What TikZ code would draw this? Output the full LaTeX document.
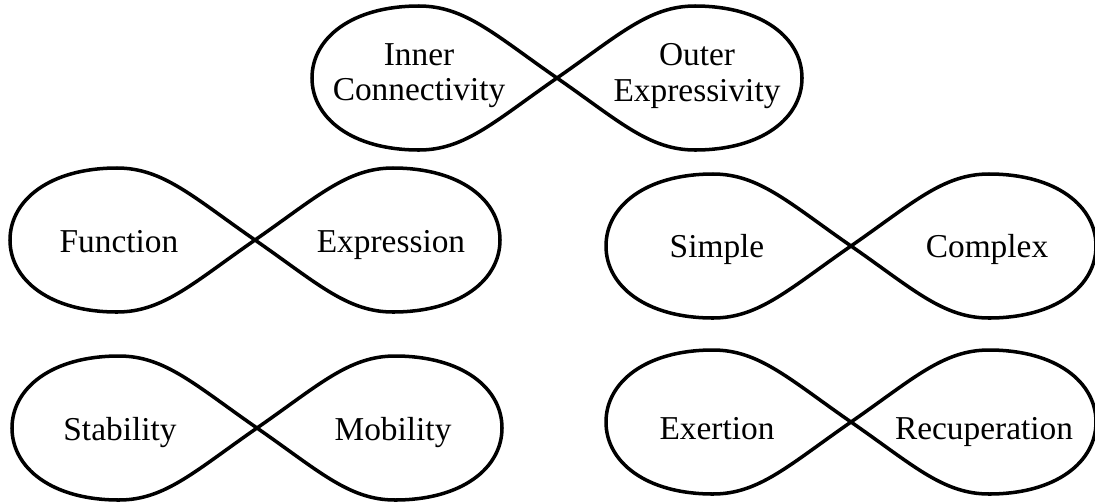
\documentclass[tikz,border=0pt]{standalone}
\usepackage{fontspec}
\setmainfont{Liberation Serif}
\usepackage{tikz}
\usetikzlibrary{calc,positioning}
\tikzset{lbl/.style={font=\fontsize{19}{20}\selectfont, inner sep=0pt, align=center},
  lemline/.style={draw, line width=2pt, line join=round},
  lemni/.pic={
    \path[lemline] (0,0) .. controls (62,43) and (92,72) .. (138,72)
      .. controls (205,72) and (245,40) .. (245,0)
      .. controls (245,-40) and (205,-72) .. (138,-72)
      .. controls (92,-72) and (62,-43) .. (0,0)
      .. controls (-62,43) and (-92,72) .. (-138,72)
      .. controls (-205,72) and (-245,40) .. (-245,0)
      .. controls (-245,-40) and (-205,-72) .. (-138,-72)
      .. controls (-92,-72) and (-62,-43) .. (0,0) -- cycle;
  }}

\begin{document}
\begin{tikzpicture}[x=0.02cm, y=0.02cm]
\useasboundingbox (0,0) rectangle (1095,-501);
% centres of the loops
\coordinate (inout) at (557,-78);
\coordinate (funex) at (255,-240);
\coordinate (simcom) at (851,-246);
\coordinate (stamob) at (257,-428);
\coordinate (exrec) at (851,-422);
\pic at (inout) {lemni};
\pic at (funex) {lemni};
\pic at (simcom) {lemni};
\pic at (stamob) {lemni};
\pic at (exrec) {lemni};
% labels
\node[lbl] (inner) at ($(inout)+(-138,2)$) {Inner\\Connectivity};
\node[lbl] (outer) at ($(inout)+(140,2)$) {Outer\\Expressivity};
\node[lbl, anchor=base] (func) at ($(funex)+(-136,-12)$) {Function};
\node[lbl, anchor=base] (expr) at ($(funex)+(136,-12)$) {Expression};
\node[lbl, anchor=base] (simp) at ($(simcom)+(-134,-11)$) {Simple};
\node[lbl, anchor=base] (comp) at ($(simcom)+(136,-11)$) {Complex};
\node[lbl, anchor=base] (stab) at ($(stamob)+(-137,-12)$) {Stability};
\node[lbl, anchor=base] (mobi) at ($(stamob)+(136,-12)$) {Mobility};
\node[lbl, anchor=base] (exer) at ($(exrec)+(-134,-17)$) {Exertion};
\node[lbl, anchor=base] (recu) at ($(exrec)+(133,-17)$) {Recuperation};
\end{tikzpicture}
\end{document}
